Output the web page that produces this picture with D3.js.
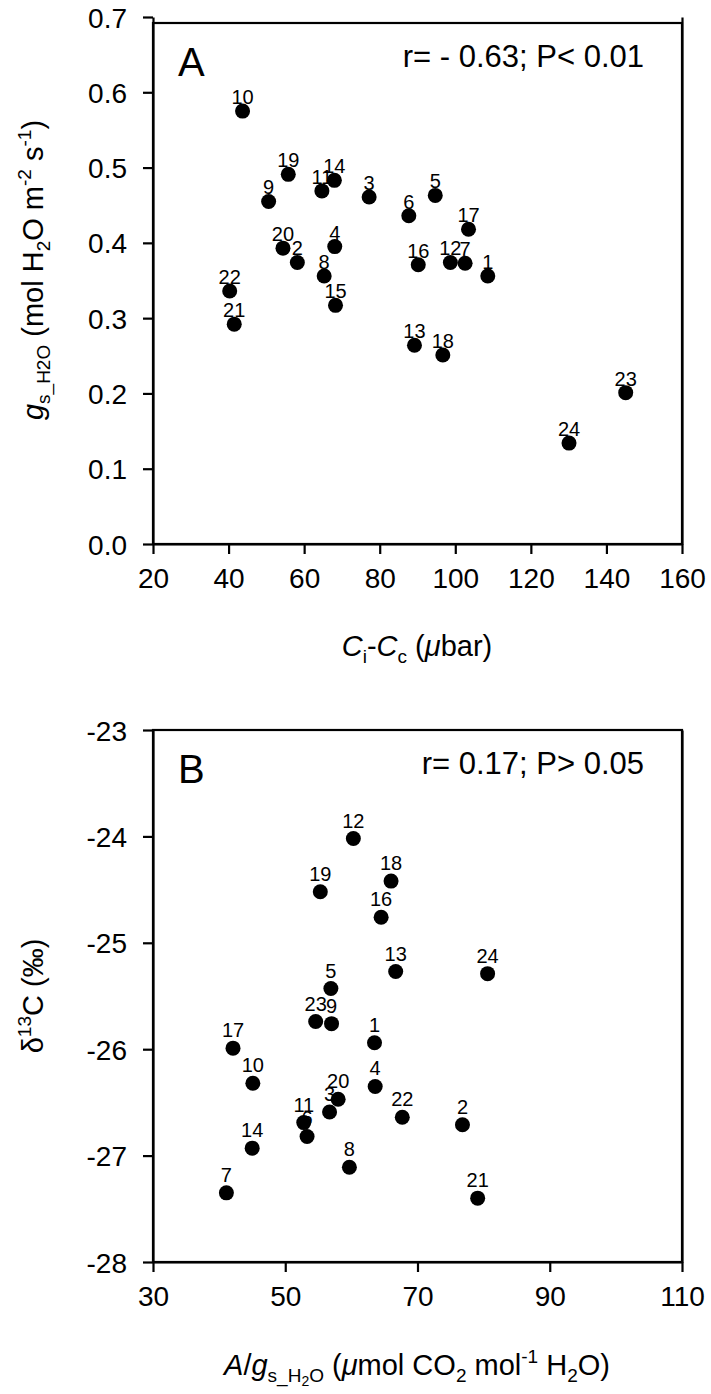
<!DOCTYPE html>
<html><head><meta charset="utf-8">
<script src="https://cdnjs.cloudflare.com/ajax/libs/d3/7.8.5/d3.min.js"></script>
<style>body{margin:0;background:#fff}svg{display:block}text{font-family:"Liberation Sans",Arial,sans-serif;fill:#000}</style>
</head><body><svg id="c" width="711" height="1394"></svg>
<script>
// ---- Data ----
const idsA = [1,2,3,4,5,6,7,8,9,10,11,12,13,14,15,16,17,18,19,20,21,22,23,24];
const ciccA = [108.6,58.2,77.2,68.1,94.7,87.7,102.6,65.3,50.6,43.7,64.7,98.7,89.2,68.0,68.3,90.2,103.5,96.7,55.8,54.4,41.5,40.3,145.1,130.1];
const gsA = [0.356,0.374,0.461,0.395,0.463,0.436,0.373,0.356,0.455,0.575,0.469,0.374,0.264,0.483,0.317,0.371,0.418,0.251,0.491,0.393,0.292,0.336,0.201,0.134];
const idsB = [1,2,3,4,5,6,7,8,9,10,11,12,13,14,16,17,18,19,20,21,22,23,24];
const wueB = [63.5,76.8,56.7,63.6,56.9,53.3,41.1,59.7,57.0,45.1,52.8,60.3,66.7,45.0,64.5,42.1,66.0,55.3,58.0,79.1,67.7,54.6,80.6];
const d13cB = [-25.94,-26.71,-26.59,-26.35,-25.43,-26.82,-27.35,-27.11,-25.76,-26.32,-26.69,-24.02,-25.27,-26.93,-24.76,-25.99,-24.42,-24.52,-26.47,-27.40,-26.64,-25.74,-25.29];
const xTicksA = [20,40,60,80,100,120,140,160];
const yTicksA = [0.0,0.1,0.2,0.3,0.4,0.5,0.6,0.7];
const xTicksB = [30,50,70,90,110];
const yTicksB = [-28,-27,-26,-25,-24,-23];

const svg = d3.select("#c");
const L = 153, R = 682;

function richText(g, segs, x, y, size, anchor, rotate) {
  const t = g.append("text").attr("font-size", size).attr("text-anchor", anchor || "middle");
  if (rotate) t.attr("transform", `translate(${x},${y}) rotate(-90)`);
  else t.attr("x", x).attr("y", y);
  let cur = 0;
  segs.forEach(s => {
    const sh = s.shift || 0;
    const sp = t.append("tspan").text(s.t).attr("dy", sh - cur);
    cur = sh;
    if (s.i) sp.attr("font-style", "italic");
    if (s.s) sp.attr("font-size", s.s);
  });
  return t;
}

function panel(cfg) {
  const g = svg.append("g");
  const x = d3.scaleLinear().domain(cfg.xd).range([L, R]);
  const y = d3.scaleLinear().domain(cfg.yd).range([cfg.bottom, cfg.top]);
  g.append("rect").attr("x", L).attr("y", cfg.frameTop).attr("width", R - L).attr("height", cfg.bottom - cfg.frameTop)
    .attr("fill", "none").attr("stroke", "#000").attr("stroke-width", 2.2);
  const xa = g.append("g").attr("transform", `translate(0,${cfg.bottom})`)
    .call(d3.axisBottom(x).tickValues(cfg.xt).tickSize(10).tickSizeOuter(0).tickFormat(d => String(d)));
  const ya = g.append("g").attr("transform", `translate(${L},0)`)
    .call(d3.axisLeft(y).tickValues(cfg.yt).tickSize(10).tickSizeOuter(0).tickFormat(cfg.yf));
  const ra = g.append("g").attr("transform", `translate(${R},0)`)
    .call(d3.axisRight(y).tickValues([]).tickSizeOuter(0));
  [xa, ya, ra].forEach(a => {
    a.select(".domain").attr("stroke-width", 2.2);
    a.selectAll(".tick line").attr("stroke-width", 2.2);
    a.selectAll("text").attr("font-size", 28).attr("font-family", '"Liberation Sans",Arial,sans-serif');
  });
  xa.selectAll(".tick text").attr("dy", 0).attr("y", 44);
  ya.selectAll(".tick text").attr("x", -26).attr("dy", "0.36em");
  g.selectAll("text.lab").data(cfg.ids).join("text").attr("class", "lab")
    .attr("x", (d, i) => x(cfg.xs[i])).attr("y", (d, i) => y(cfg.ys[i]) - cfg.loff)
    .attr("text-anchor", "middle").attr("font-size", 20).text(d => d);
  g.selectAll("circle").data(cfg.ids).join("circle")
    .attr("cx", (d, i) => x(cfg.xs[i])).attr("cy", (d, i) => y(cfg.ys[i])).attr("r", 7.5).attr("fill", "#000");
  g.append("text").attr("x", 178).attr("y", cfg.frameTop + 53).attr("font-size", 40).text(cfg.letter);
  g.append("text").attr("x", 644).attr("y", cfg.frameTop + 44).attr("font-size", 31).attr("text-anchor", "end").text(cfg.stat);
  return g;
}

const gA = panel({xd:[20,160], yd:[0,0.7], top:17, bottom:544, frameTop:23, xt:xTicksA, yt:yTicksA,
  yf:d3.format(".1f"), ids:idsA, xs:ciccA, ys:gsA, loff:7, letter:"A", stat:"r= - 0.63; P< 0.01"});
const gB = panel({xd:[30,110], yd:[-28,-23], top:730, bottom:1262, frameTop:730, xt:xTicksB, yt:yTicksB,
  yf:d => String(d), ids:idsB, xs:wueB, ys:d13cB, loff:11, letter:"B", stat:"r= 0.17; P> 0.05"});

richText(gA, [{t:"C",i:true},{t:"i",s:19,shift:7},{t:"-"},{t:"C",i:true},{t:"c",s:19,shift:7},{t:" ("},{t:"\u03bc",i:true},{t:"bar)"}], 417, 656, 29, "middle");
richText(gA, [{t:"g",i:true},{t:"s_H2O",s:19,shift:7},{t:" (mol H"},{t:"2",s:19,shift:7},{t:"O m"},{t:"-2",s:19,shift:-12},{t:" s"},{t:"-1",s:19,shift:-12},{t:")"}], 43, 270, 29, "middle", true);
richText(gB, [{t:"\u03b4"},{t:"13",s:19,shift:-12},{t:"C (\u2030)"}], 43, 996, 29, "middle", true);
richText(gB, [{t:"A",i:true},{t:"/"},{t:"g",i:true},{t:"s_H",s:19,shift:7},{t:"2",s:14,shift:11},{t:"O",s:19,shift:7},{t:" ("},{t:"\u03bc",i:true},{t:"mol CO"},{t:"2",s:19,shift:7},{t:" mol"},{t:"-1",s:19,shift:-12},{t:" H"},{t:"2",s:19,shift:7},{t:"O)"}], 417, 1375, 29, "middle");
</script></body></html>
